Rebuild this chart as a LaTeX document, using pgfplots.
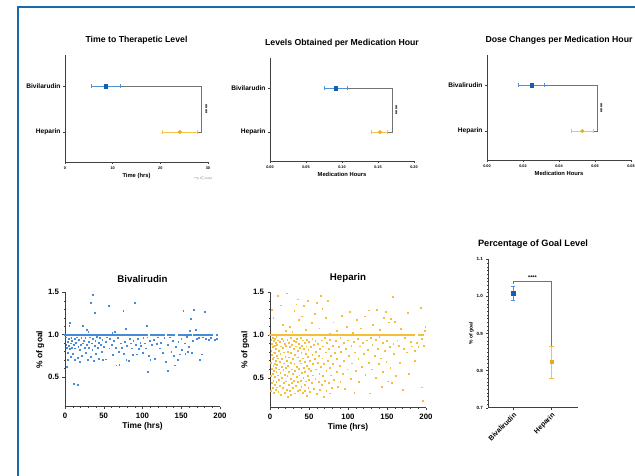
\documentclass[border=0pt]{standalone}
\usepackage{fontspec}
\setmainfont{Liberation Sans}
\usepackage{pgfplots}
\pgfplotsset{compat=1.18}
\definecolor{bivMark}{RGB}{20,95,180}
\definecolor{bivErr}{RGB}{80,145,215}
\definecolor{bivDot}{RGB}{70,140,215}
\definecolor{hepMark}{RGB}{235,170,20}
\definecolor{hepErr}{RGB}{242,195,70}
\definecolor{hepDot}{RGB}{244,192,60}
\definecolor{frame}{RGB}{25,105,175}
\pgfplotsset{
  base/.style={scale only axis, anchor=south west, axis lines*=left,
    axis line style={black!75,line width=0.6pt}, tick style={black!75,line width=0.4pt},
    tick align=outside, clip=false, scaled ticks=false, /pgf/number format/assume math mode=true},
  fx2/.style={xticklabel style={/pgf/number format/fixed, /pgf/number format/fixed zerofill, /pgf/number format/precision=2}},
  fy1/.style={yticklabel style={/pgf/number format/fixed, /pgf/number format/fixed zerofill, /pgf/number format/precision=1}},
  top/.style={base, ytick={1,2}, major tick length=2pt, minor tick length=1pt,
    y tick label style={font=\bfseries\fontsize{6.6}{7}\selectfont, xshift=1pt},
    x tick label style={font=\bfseries\fontsize{3.8}{4}\selectfont, yshift=1pt},
    xlabel style={font=\bfseries\fontsize{5.8}{6}\selectfont, yshift=3pt},
    title style={font=\bfseries\fontsize{8.7}{9}\selectfont, yshift=1pt}},
  sc/.style={base, fy1, xmin=0, xmax=200, ymin=0.15, ymax=1.5, xtick={0,50,100,150,200},
    ytick={0.5,1.0,1.5}, minor x tick num=4, minor y tick num=4,
    major tick length=2.5pt, minor tick length=1.2pt,
    tick label style={font=\bfseries\fontsize{7.8}{8}\selectfont},
    xlabel={Time (hrs)}, ylabel={\% of goal},
    label style={font=\bfseries\fontsize{8.4}{9}\selectfont},
    xlabel style={yshift=3pt}, ylabel style={yshift=-3pt},
    title style={font=\bfseries\fontsize{9.7}{10}\selectfont, yshift=0pt}},
  errb/.style={line width=0.8pt, mark=|, mark size=2pt, mark options={solid, line width=0.8pt}},
  errv/.style={line width=0.8pt, mark=-, mark size=2.2pt, mark options={solid, line width=0.8pt}},
  brk/.style={black!55, line width=0.6pt},
  dots/.style={only marks, mark=square*, mark size=0.42pt},
}
\begin{document}
\begin{tikzpicture}
\useasboundingbox (0pt,0pt) rectangle (635pt,475pt);
\draw[frame, line width=2pt] (18.3pt,-3pt) -- (18.3pt,468.3pt) -- (640pt,468.3pt);

% ---------- Panel 1
\begin{axis}[top, at={(65pt,313pt)}, width=143pt, height=107pt, xmin=0, xmax=30,
  ymin=0.348, ymax=2.674, xtick={0,10,20,30}, minor x tick num=9,
  yticklabels={Heparin,Bivilarudin}, xlabel={Time (hrs)}, title={Time to Therapetic Level}]
\addplot[brk] coordinates {(11.7,2) (28.5,2) (28.5,1) (27.8,1)};
\addplot[errb, bivErr] coordinates {(5.5,2) (11.7,2)};
\addplot[only marks, mark=square*, mark size=1.7pt, bivMark] coordinates {(8.5,2)};
\addplot[errb, hepErr] coordinates {(20.5,1) (27.8,1)};
\addplot[only marks, mark=*, mark size=1.7pt, hepMark] coordinates {(24.1,1)};
\node[rotate=-90, font=\bfseries\fontsize{5.5}{5}\selectfont] at (axis cs:29.5,1.5) {****};
\end{axis}
\node[font=\fontsize{2.5}{3}\selectfont, text=black!60] at (203pt,297pt) {****p$<$0.0001};

% ---------- Panel 2
\begin{axis}[top, fx2, at={(270pt,314pt)}, width=144pt, height=103pt, xmin=0, xmax=0.2,
  ymin=0.341, ymax=2.682, xtick={0,0.05,0.10,0.15,0.20}, minor x tick num=9,
  yticklabels={Heparin,Bivilarudin}, xlabel={Medication Hours}, title={Levels Obtained per Medication Hour}]
\addplot[brk] coordinates {(0.108,2) (0.170,2) (0.170,1) (0.1635,1)};
\addplot[errb, bivErr] coordinates {(0.0754,2) (0.108,2)};
\addplot[only marks, mark=square*, mark size=1.7pt, bivMark] coordinates {(0.0912,2)};
\addplot[errb, hepErr] coordinates {(0.1412,1) (0.1635,1)};
\addplot[only marks, mark=*, mark size=1.7pt, hepMark] coordinates {(0.1528,1)};
\node[rotate=-90, font=\bfseries\fontsize{5.5}{5}\selectfont] at (axis cs:0.1745,1.5) {****};
\end{axis}

% ---------- Panel 3
\begin{axis}[top, fx2, at={(487pt,315pt)}, width=144pt, height=105pt, xmin=0, xmax=0.08,
  ymin=0.370, ymax=2.653, xtick={0,0.02,0.04,0.06,0.08}, minor x tick num=4,
  yticklabels={Heparin,Bivalirudin}, xlabel={Medication Hours}, title={Dose Changes per Medication Hour}]
\addplot[brk] coordinates {(0.0319,2) (0.0613,2) (0.0613,1) (0.0591,1)};
\addplot[errb, bivErr] coordinates {(0.0174,2) (0.0319,2)};
\addplot[only marks, mark=square*, mark size=1.7pt, bivMark] coordinates {(0.0248,2)};
\addplot[errb, hepErr] coordinates {(0.0471,1) (0.0591,1)};
\addplot[only marks, mark=*, mark size=1.7pt, hepMark] coordinates {(0.0530,1)};
\node[rotate=-90, font=\bfseries\fontsize{5.5}{5}\selectfont] at (axis cs:0.0630,1.5) {****};
\end{axis}

% ---------- Scatter Bivalirudin
\begin{axis}[sc, at={(65pt,68.3pt)}, width=155pt, height=114.4pt, title={Bivalirudin}]
\addplot[dots, bivDot] coordinates {
(0,1)(1.5,1)(3,1)(4.5,1)(6,1)(7.5,1)(9,1)(10.5,1)(12,1)(13.5,1)(15,1)(16.5,1)(18,1)(19.5,1)(21,1)(22.5,1)(24,1)(25.5,1)(27,1)(28.5,1)(30,1)(31.5,1)(33,1)(34.5,1)(36,1)(37.5,1)(39,1)(40.5,1)(42,1)(43.5,1)(45,1)(46.5,1)(48,1)(49.5,1)(51,1)(52.5,1)(54,1)(55.5,1)(57,1)(58.5,1)(60,1)(61.5,1)(63,1)(64.5,1)(66,1)(67.5,1)(69,1)(70.5,1)(72,1)(73.5,1)(75,1)(76.5,1)(78,1)(79.5,1)(81,1)(82.5,1)(84,1)(85.5,1)(87,1)(88.5,1)(90,1)(91.5,1)(93,1)(94.5,1)(96,1)(97.5,1)(99,1)
(102,1)(104,1)(106,1)(110,1)(112,1)(114,1)(116,1)(118,1)(120,1)(122,1)(124,1)(126,1)(128,1)(132,1)(134,1)(136,1)(138,1)(140,1)(146,1)(148,1)(150,1)(152,1)(154,1)(156,1)(158,1)(160,1)(162,1)(166,1)(168,1)(170,1)(172,1)(174,1)(176,1)(178,1)(180,1)(182,1)(184,1)(186,1)(188,1)(190,1)(196,1)
(1,0.97)(1.5,0.88)(2,0.62)(2.5,0.85)(3,0.70)(3.5,0.92)(4,0.79)(4.5,0.95)(5,0.87)(5.5,1.11)(6,0.83)(6.5,1.14)(7,0.90)(7.5,0.74)(8,0.96)(8.5,0.85)(9,0.93)(10,0.78)(10.7,0.42)(11,0.88)(12,0.95)(12.5,0.70)(13,0.84)(14,0.91)(15,0.97)(16,0.41)(16.5,0.73)(17,0.86)(18,0.94)(18.5,0.68)(19,0.82)(20,0.88)(21,0.96)(22,0.75)(22.8,1.11)(23,0.90)(24,0.93)(25,0.85)
(26,0.96)(27,0.79)(27.5,1.06)(28,0.88)(29,0.70)(30,1.04)(30.5,0.92)(31,0.85)(32,0.97)(33,1.38)(33.5,0.74)(34,0.90)(35,0.82)(35.7,1.47)(36,0.95)(37,0.69)(38,0.87)(38.7,1.26)(39,0.93)(40,0.78)(41,0.98)(42,0.85)(43,0.91)(44,0.72)(45,0.96)(46,0.88)(47,0.80)(48,0.94)(49,0.70)(50,0.86)
(52,0.92)(53,0.71)(54,0.97)(56,1.34)(57,0.84)(58,0.95)(60,0.88)(61,1.02)(62,0.76)(63,0.93)(64,1.04)(65,0.85)(66,0.64)(68,0.96)(69,0.80)(70,0.65)(72,0.90)(73,0.85)(75,1.28)(76,0.78)(77,0.92)(78.7,1.07)(79,0.70)(80,0.87)(82,0.69)(83,0.95)(85,0.90)(86,0.84)(87,0.76)(88,0.93)(90,1.38)(91,0.88)(92,0.77)(94,0.95)(95,0.83)(97,0.91)(98,0.87)(100,0.79)
(101,0.96)(103,0.90)(104,0.84)(105,1.11)(106,0.97)(106.6,0.56)(108,0.75)(109,0.93)(110,0.70)(112,0.88)(114,0.94)(116,0.72)(118,0.89)(120,0.97)(122,0.84)(124,0.91)(126,0.79)(128,0.96)(130,0.68)(132,0.57)(133,0.88)(135,0.97)(137,0.80)(139,0.93)(140,0.75)(142,0.64)(143,0.86)(145,0.70)(146,0.92)(148,0.77)(150,0.95)
(151,0.82)(152.6,1.28)(154,0.90)(155,0.78)(157,0.98)(158,0.80)(160,0.86)(161,1.05)(162.5,1.19)(163,0.79)(165,0.93)(166,1.29)(168.6,1.06)(170,0.95)(172,0.96)(174,0.70)(176,0.77)(178,0.97)(180,1.27)(182,0.95)(185,0.94)(188,0.96)(193,0.94)(196,0.95)
};
\end{axis}

% ---------- Scatter Heparin
\begin{axis}[sc, at={(270pt,67.3pt)}, width=156pt, height=115.4pt, title={Heparin}]
\addplot[dots, hepDot] coordinates {
(0,1)(1.5,1)(3,1)(4.5,1)(6,1)(7.5,1)(9,1)(10.5,1)(12,1)(13.5,1)(15,1)(16.5,1)(18,1)(19.5,1)(21,1)(22.5,1)(24,1)(25.5,1)(27,1)(28.5,1)(30,1)(31.5,1)(33,1)(34.5,1)(36,1)(37.5,1)(39,1)(40.5,1)(42,1)(43.5,1)(45,1)(46.5,1)(48,1)(49.5,1)(51,1)(52.5,1)(54,1)(55.5,1)(57,1)(58.5,1)(60,1)(61.5,1)(63,1)(64.5,1)(66,1)(67.5,1)(69,1)(70.5,1)(72,1)(73.5,1)(75,1)(76.5,1)(78,1)(79.5,1)(81,1)(82.5,1)(84,1)(85.5,1)(87,1)(88.5,1)(90,1)(91.5,1)(93,1)(94.5,1)(96,1)(97.5,1)(99,1)(100.5,1)(102,1)(103.5,1)(105,1)(106.5,1)(108,1)(109.5,1)(111,1)(112.5,1)(114,1)(115.5,1)(117,1)(118.5,1)(120,1)(121.5,1)(123,1)(124.5,1)(126,1)(127.5,1)(129,1)(130.5,1)(132,1)(133.5,1)(135,1)(136.5,1)(138,1)(139.5,1)(141,1)(142.5,1)(144,1)(145.5,1)(147,1)(148.5,1)(150,1)(151.5,1)(153,1)(154.5,1)(156,1)(157.5,1)(159,1)(160.5,1)(162,1)(163.5,1)(165,1)(166.5,1)(168,1)(169.5,1)(171,1)(172.5,1)(174,1)(175.5,1)(177,1)(178.5,1)(180,1)(181.5,1)(183,1)(184.5,1)(190,1)(191.5,1)(193,1)(196,1)
(1,0.35)(1,0.52)(1,0.68)(1.5,0.82)(1.5,0.95)(2,0.44)(2,0.61)(2,0.77)(2.5,0.90)(2.5,1.30)(3,0.38)(3,0.55)(3,0.72)(3.5,0.86)(3.5,0.97)(4,0.47)(4,0.64)(4,1.20)(4.5,0.80)(4.5,0.93)(5,0.33)(5,0.58)(5,0.74)(5.5,0.88)(6,0.42)(6,0.66)(6,0.96)(6.5,0.51)(6.5,0.79)(7,0.36)(7,0.62)(7,0.91)(7.5,0.70)(7.5,0.84)(8,0.45)(8,0.57)(8,0.98)(8.5,0.76)(9,0.39)(9,0.65)(9,0.89)(9.5,0.53)(10,0.73)(10,0.94)(10,1.46)
(10.5,0.34)(11,0.60)(11,0.82)(11.5,0.48)(12,0.69)(12,0.92)(12.5,0.41)(13,0.56)(13,0.78)(13.5,1.35)(14,0.87)(14,0.30)(14.5,0.63)(15,0.50)(15,0.96)(15.5,0.72)(16,0.38)(16,0.85)(16.5,1.12)(17,0.59)(17,0.93)(17.5,0.44)(18,0.67)(18,0.80)(18.5,0.33)(19,0.54)(19,0.90)(19.5,0.75)(20,0.46)(20,0.62)(20,1.05)
(20.5,0.88)(21,0.36)(21,1.49)(21.5,0.70)(22,0.52)(22,0.95)(22.5,0.28)(23,0.81)(23,0.64)(23.5,0.42)(24,0.91)(24,0.57)(24.5,0.74)(25,0.35)(25,0.86)(25.5,1.10)(26,0.49)(26,0.68)(26.5,0.97)(27,0.30)(27,0.79)(27.5,0.60)(28,0.44)(28,0.89)(28.5,1.04)(29,0.55)(29,0.72)(29.5,0.38)(30,0.84)(30,0.93)
(30.5,0.47)(31,0.66)(31,1.28)(31.5,0.32)(32,0.77)(32,0.58)(32.5,0.92)(33,0.41)(33,0.87)(33.5,1.36)(34,0.63)(34,0.51)(34.5,0.96)(35,0.35)(35,0.74)(35.5,1.42)(36,0.82)(36,0.45)(36.5,0.61)(37,0.90)(37,1.18)(37.5,0.53)(38,0.70)(38,0.36)(38.5,0.85)(39,0.47)(39,0.97)(39.5,0.67)(40,0.40)(40,0.79)
(40.5,1.22)(41,0.56)(41,0.88)(41.5,0.33)(42,0.73)(42,0.94)(42.5,0.50)(43,0.62)(43,1.34)(43.5,0.84)(44,0.42)(44,0.69)(44.5,0.91)(45,0.35)(45,0.57)(45.5,0.78)(46,1.06)(46,0.46)(46.5,0.87)(47,0.64)(47,0.29)(47.5,0.95)(48,0.52)(48,0.75)(48.5,1.40)(49,0.38)(49,0.83)(49.5,0.61)(50,0.92)(50,0.48)
(51,0.70)(51,0.34)(52,0.86)(52,0.58)(53,1.14)(53,0.44)(54,0.77)(54,0.96)(55,0.53)(55,0.66)(56,0.37)(56,0.89)(57,1.25)(57,0.72)(58,0.49)(58,0.93)(59,0.60)(59,0.81)(60,0.31)(60,1.38)
(61,0.68)(61,0.90)(62,0.45)(62,0.76)(63,1.08)(63,0.55)(64,0.84)(64,0.36)(65,1.46)(65,0.63)(66,0.94)(66,0.42)(67,0.73)(67,1.31)(68,0.52)(68,0.87)(69,0.28)(69,0.66)(70,0.97)(70,0.47)
(71,0.80)(71,1.20)(72,0.58)(72,0.35)(73,0.91)(74,0.70)(74,1.40)(75,0.44)(75,0.84)(76,0.62)(76,0.32)(77,0.95)(77,1.02)(78,0.53)(78,0.76)(79,0.38)(80,0.88)(80,0.66)
(81,1.15)(82,0.48)(83,0.79)(84,0.93)(85,0.57)(86,1.05)(86,0.72)(87,0.40)(88,0.86)(89,0.64)(90,0.97)(90,0.45)(91,0.81)(92,1.23)(93,0.55)(94,0.91)(95,0.70)(96,0.37)(97,0.84)(98,1.10)(99,0.60)(100,0.94)
(101,0.76)(102,1.27)(103,0.49)(104,0.88)(105,0.67)(106,1.03)(107,0.92)(108,0.33)(109,0.80)(110,0.58)(111,1.18)(112,0.96)(113,0.72)(114,0.45)(115,0.87)(116,1.08)(118,0.63)(119,0.91)(120,0.78)(121,1.22)(122,0.54)(124,0.94)(125,0.83)(126,1.29)(127,0.68)(128,0.32)(129,0.97)(130,0.60)
(131,0.89)(132,1.12)(134,0.76)(135,0.95)(136,0.50)(137,1.30)(138,0.84)(139,0.66)(140,0.98)(141,1.06)(142,0.73)(143,0.40)(144,0.91)(145,0.57)(146,1.20)(147,0.82)(148,1.27)(149,0.69)(150,0.93)(151,0.46)(152,1.15)(153,0.86)(154,0.62)(155,1.19)(156,0.44)(157,1.45)(158,0.90)(159,0.78)
(160,1.16)(161,0.52)(163,0.94)(165,0.88)(166,0.68)(168,1.07)(170,0.36)(171,0.84)(173,0.97)(175,0.80)(177,1.26)(178,0.55)(180,0.92)(182,0.87)(183,1.00)(185,0.82)(186,0.70)(188,0.91)(190,0.86)(193,1.32)(194,0.96)(195,0.39)(196,0.23)(197,0.88)(198,1.05)(199,1.10)
};
\end{axis}

% ---------- Percentage of Goal Level
\begin{axis}[base, fy1, at={(488.3pt,67.3pt)}, width=89.4pt, height=148.4pt,
  xmin=0.35, xmax=2.68, ymin=0.7, ymax=1.1, xtick={1,2}, xticklabels={Bivalirudin,Heparin},
  ytick={0.7,0.8,0.9,1.0,1.1}, minor y tick num=9, major tick length=2pt, minor tick length=1pt,
  y tick label style={font=\bfseries\fontsize{4.5}{5}\selectfont},
  x tick label style={font=\bfseries\fontsize{7}{7}\selectfont, rotate=45, anchor=north east, inner sep=1.5pt},
  ylabel={\% of goal}, ylabel style={font=\bfseries\fontsize{5}{6}\selectfont, yshift=-4pt},
  title={Percentage of Goal Level}, title style={font=\bfseries\fontsize{9.2}{10}\selectfont, yshift=1pt}]
\addplot[brk] coordinates {(1,1.033) (1,1.0415) (2,1.0415) (2,0.866)};
\addplot[errv, bivErr] coordinates {(1,0.990) (1,1.026)};
\addplot[only marks, mark=square*, mark size=1.8pt, bivMark] coordinates {(1,1.009)};
\addplot[errv, hepErr] coordinates {(2,0.780) (2,0.866)};
\addplot[only marks, mark=square*, mark size=1.8pt, hepMark] coordinates {(2,0.824)};
\node[anchor=south, font=\bfseries\fontsize{5.5}{5}\selectfont, inner sep=1pt] at (axis cs:1.5,1.0415) {****};
\end{axis}
\end{tikzpicture}
\end{document}
